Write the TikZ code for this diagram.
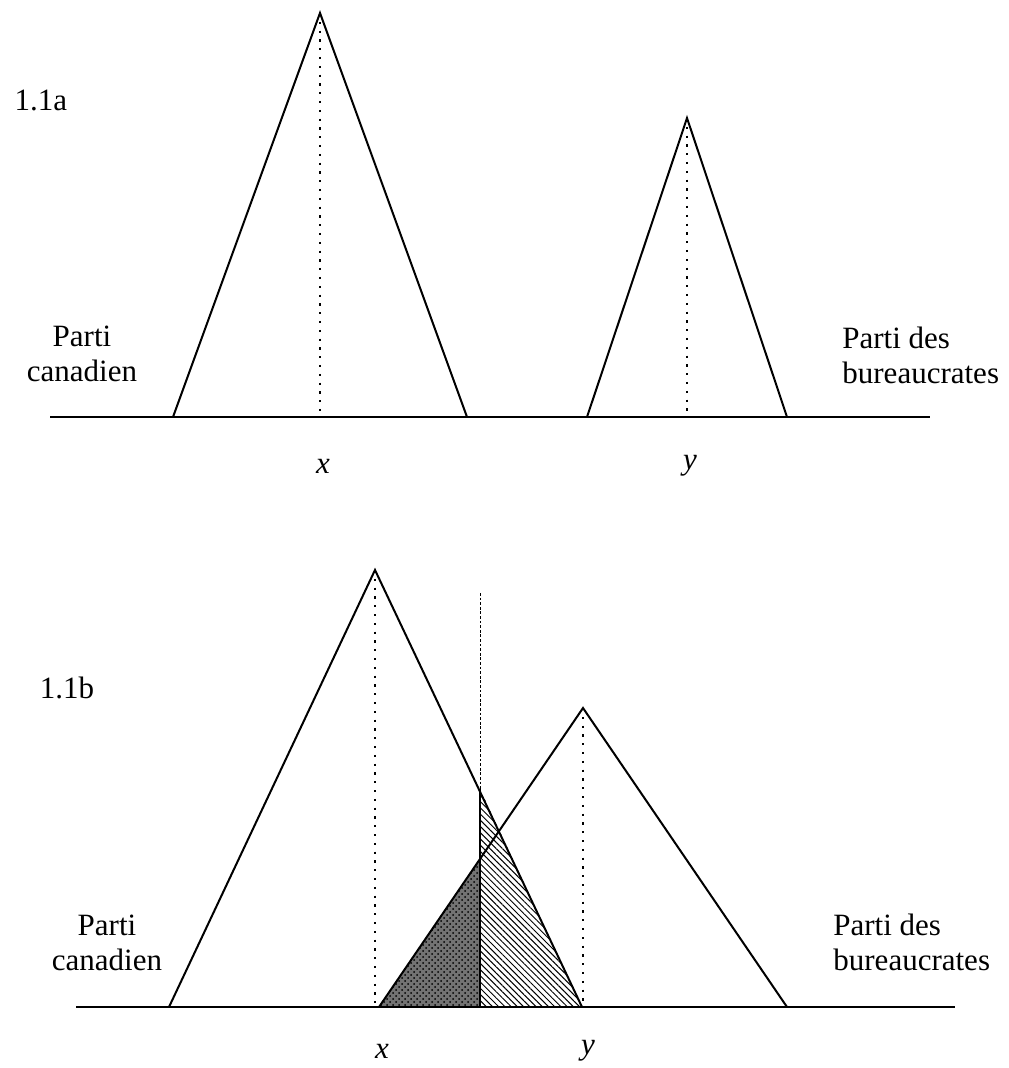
\documentclass[tikz,border=0pt]{standalone}
\usepackage{fontspec}
\setmainfont{Liberation Serif}
\usetikzlibrary{patterns, patterns.meta}

\begin{document}
\begin{tikzpicture}[
    x=0.5pt, y=-0.5pt,
    axis/.style={line width=1.3pt},
    tri/.style={line width=1pt, line join=miter},
    median/.style={line width=1.1pt, dash pattern=on 1.1pt off 3.3pt},
    cutline/.style={line width=0.5pt, dash pattern=on 1.4pt off 0.9pt},
    party/.style={font=\fontsize{15.5}{17.5}\selectfont, inner sep=0pt},
    varlbl/.style={font=\fontsize{15.5}{17.5}\selectfont\itshape, inner sep=0pt},
    tag/.style={font=\fontsize{15.5}{17.5}\selectfont, inner sep=0pt}
]
\useasboundingbox (0,0) rectangle (1008,1068);

% Figure 1.1a (top)
\node[tag] (tagA) at (41,100) {1.1a};
\coordinate (axAw) at (50,417);
\coordinate (axAe) at (930,417);
\coordinate (xAw) at (173,417);
\coordinate (xAe) at (467,417);
\coordinate (xAtop) at (320,13);
\coordinate (xAfoot) at (320,417);
\coordinate (yAw) at (587,417);
\coordinate (yAe) at (787,417);
\coordinate (yAtop) at (687,118);
\coordinate (yAfoot) at (687,417);

\draw[tri] (xAw) -- (xAtop) -- (xAe);
\draw[tri] (yAw) -- (yAtop) -- (yAe);
\draw[median] (xAtop) -- (xAfoot);
\draw[median] (yAtop) -- (yAfoot);
\draw[axis] (axAw) -- (axAe);

\node[party, align=center] (canA) at (82,354) {Parti\\canadien};
\node[party, align=left, anchor=west] (burA) at (842,355) {Parti des\\bureaucrates};
\node[varlbl] (xA) at (323,466) {x};
\node[varlbl] (yA) at (690,466) {y};

% Figure 1.1b (bottom)
\node[tag] (tagB) at (67,688) {1.1b};
\coordinate (axBw) at (76,1007);
\coordinate (axBe) at (955,1007);
\coordinate (xBw) at (169,1007);
\coordinate (xBe) at (582,1007);
\coordinate (xBtop) at (375,570);
\coordinate (xBfoot) at (375,1007);
\coordinate (yBw) at (379,1007);
\coordinate (yBe) at (787,1007);
\coordinate (yBtop) at (583,708);
\coordinate (yBfoot) at (583,1007);
\coordinate (cutTop) at (480,593);
\coordinate (cutFoot) at (480,1007);
\coordinate (cutX) at (480,789);  % cut line meets the x curve
\coordinate (cutY) at (480,859);  % cut line meets the y curve

% shaded areas
\fill[black!55] (yBw) -- (cutY) -- (cutFoot) -- cycle;
\fill[pattern=crosshatch dots, pattern color=black] (yBw) -- (cutY) -- (cutFoot) -- cycle;
\fill[pattern={Lines[angle=-45, distance=2.2pt, line width=0.5pt]}] (cutX) -- (xBe) -- (cutFoot) -- cycle;

\draw[tri] (xBw) -- (xBtop) -- (xBe);
\draw[tri] (yBw) -- (yBtop) -- (yBe);
\draw[median] (xBtop) -- (xBfoot);
\draw[median] (yBtop) -- (yBfoot);
\draw[cutline] (cutTop) -- (cutX);
\draw[line width=0.8pt] (cutX) -- (cutFoot);
\draw[axis] (axBw) -- (axBe);

\node[party, align=center] (canB) at (107,943) {Parti\\canadien};
\node[party, align=left, anchor=west] (burB) at (833,942) {Parti des\\bureaucrates};
\node[varlbl] (xB) at (382,1051) {x};
\node[varlbl] (yB) at (588,1051) {y};

\end{tikzpicture}
\end{document}
